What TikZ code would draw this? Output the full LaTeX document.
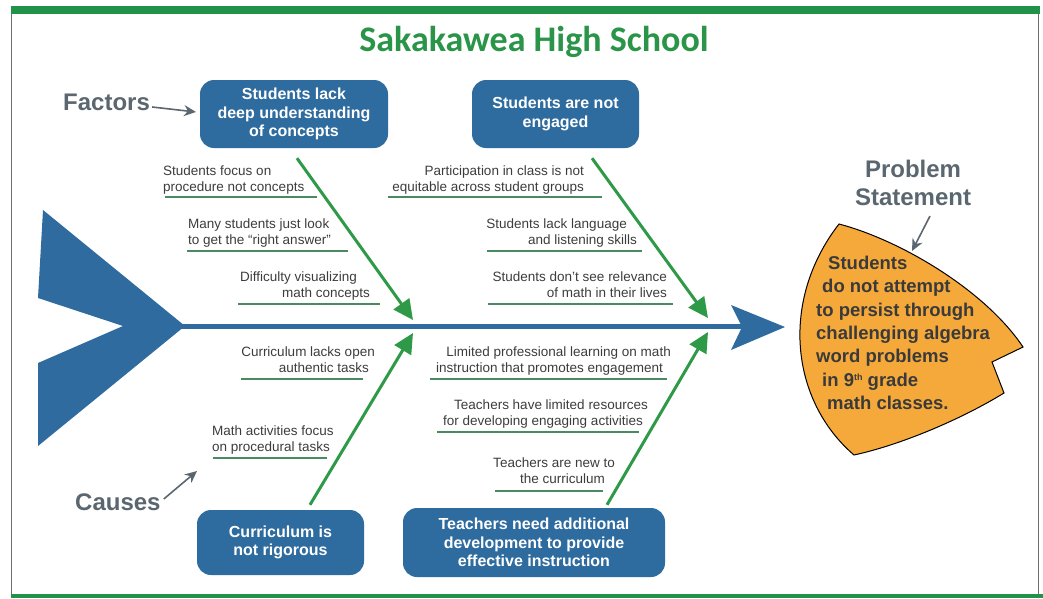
\documentclass[tikz,border=0pt]{standalone}
\usepackage{fontspec}
\setmainfont{Liberation Sans}
\newfontfamily\titlefont{Carlito}
\usetikzlibrary{arrows.meta,calc}
\definecolor{boxblue}{HTML}{2E6B9E}
\definecolor{spineblue}{HTML}{2F6B9F}
\definecolor{agreen}{HTML}{2E9A48}
\definecolor{ulgreen}{HTML}{4A8A62}
\definecolor{titlegreen}{HTML}{2A9548}
\definecolor{lblgray}{HTML}{5B6770}
\definecolor{txtgray}{HTML}{3C3C3C}
\definecolor{probtext}{HTML}{3A3A3A}
\definecolor{orangefill}{HTML}{F5A93B}
\definecolor{bargreen}{HTML}{22924A}
\definecolor{framegray}{HTML}{6E6E6E}
\begin{document}
\begin{tikzpicture}[x=1pt,y=-1pt,
  factorbox/.style={fill=boxblue, rounded corners=14pt, text=white, font=\bfseries\fontsize{16}{18.5}\selectfont, align=center, inner sep=0pt},
  causetxt/.style={text=txtgray, font=\fontsize{13.5}{15.5}\selectfont, inner sep=0pt},
  uline/.style={draw=ulgreen, line width=1.8pt},
  garrow/.style={draw=agreen, line width=3pt, -{Triangle[length=20pt,width=19pt]}},
  grayarrow/.style={draw=lblgray, line width=1.6pt, -{Stealth[length=12pt,width=11pt]}},
  biglabel/.style={text=lblgray, font=\bfseries\fontsize{24}{28}\selectfont, inner sep=0pt}]
\useasboundingbox (0,0) rectangle (1043,598);
% frame
\fill[bargreen] (11,6) rectangle (1040,14);
\draw[framegray, line width=1pt] (11,14) -- (11,594);
\draw[framegray, line width=1pt] (1038,14) -- (1038,594);
\fill[bargreen] (11,594) rectangle (1043,598);
% title
\node[font=\titlefont\bfseries\fontsize{36}{40}\selectfont, text=titlegreen, anchor=base] (title) at (534,51) {Sakakawea High School};
% fish tail and spine
\fill[spineblue] (43,210) -- (185,326) -- (38,446) -- (38,363) -- (123,326) -- (38,298) -- cycle;
\coordinate (spL) at (180,326);
\coordinate (spR) at (745,326);
\draw[spineblue, line width=5pt] (spL) -- (spR);
\fill[spineblue] (785,327) -- (731,305) -- (742,327) -- (731,350) -- cycle;
% factor boxes
\node[factorbox, minimum width=188pt, minimum height=68pt] (b1) at (294,114) {Students lack\\deep understanding\\of concepts};
\node[factorbox, minimum width=167pt, minimum height=68pt] (b2) at (555.5,114) {Students are not\\engaged};
\node[factorbox, minimum width=167pt, minimum height=65pt] (b3) at (280.5,542.5) {Curriculum is\\not rigorous};
\node[factorbox, minimum width=262pt, minimum height=69pt] (b4) at (534,542.5) {Teachers need additional\\development to provide\\effective instruction};
% arrow tips on spine
\coordinate (t1) at (413,320);
\coordinate (t2) at (708,318);
\coordinate (t3) at (413,333);
\coordinate (t4) at (708,332);
\draw[garrow] ($(b1.south)+(3,10)$) -- (t1);
\draw[garrow] ($(b2.south)+(36.5,10)$) -- (t2);
\draw[garrow] ($(b3.north)+(29.5,-5)$) -- (t3);
\draw[garrow] ($(b4.north)+(73,-3)$) -- (t4);
% cause labels
\node[causetxt, align=left, anchor=north west] (c1) at (163,166) {Students focus on\\procedure not concepts};
\node[causetxt, align=left, anchor=north west] (c2) at (188,219) {Many students just look\\to get the “right answer”};
\node[causetxt, align=right, anchor=north east] (c3) at (370,272) {Difficulty visualizing\hspace*{13pt}\\math concepts};
\node[causetxt, align=right, anchor=north east] (c4) at (584,166) {Participation in class is not\\equitable across student groups};
\node[causetxt, align=right, anchor=north east] (c5) at (637,219) {Students lack language\hspace*{10pt}\\and listening skills};
\node[causetxt, align=right, anchor=north east] (c6) at (667,272) {Students don’t see relevance\\of math in their lives};
\node[causetxt, align=right, anchor=north east] (c7) at (375,347) {Curriculum lacks open\\authentic tasks\hspace*{6pt}};
\node[causetxt, align=left, anchor=north west] (c8) at (212,426) {Math activities focus\\on procedural tasks};
\node[causetxt, align=right, anchor=north east] (c9) at (671,347) {Limited professional learning on math\\instruction that promotes engagement\hspace*{8pt}};
\node[causetxt, align=right, anchor=north east] (c10) at (648,400) {Teachers have limited resources\\for developing engaging activities\hspace*{5pt}};
\node[causetxt, align=right, anchor=north east] (c11) at (615,458) {Teachers are new to\\the curriculum\hspace*{10pt}};
% underlines
\draw[uline] (165,197) -- (317,197);
\draw[uline] (187,251) -- (348,251);
\draw[uline] (238,304) -- (380,304);
\draw[uline] (388,197) -- (602,197);
\draw[uline] (487,251) -- (642,251);
\draw[uline] (488,304) -- (673,304);
\draw[uline] (241,379) -- (363,379);
\draw[uline] (213,458) -- (327,458);
\draw[uline] (430,379) -- (667,379);
\draw[uline] (437,432) -- (639,432);
\draw[uline] (495,491) -- (603,491);
% big labels
\node[biglabel, anchor=base west] (fac) at (63,110) {Factors};
\coordinate (fa) at (196,112);
\draw[grayarrow] ($(fac.base east)+(2,-3)$) -- (fa);
\node[biglabel, anchor=base west] (cau) at (75,510) {Causes};
\coordinate (ca) at (197,471);
\draw[grayarrow] ($(cau.base east)+(3,-11)$) -- (ca);
\node[biglabel, align=center, anchor=north] (ps) at (913,160) {Problem\\Statement};
\coordinate (pa) at (912,251);
% problem shape
\draw[fill=orangefill, draw=black, line width=1pt] (839,224) .. controls (900,240) and (985,290) .. (1023,347) -- (992,362) -- (1004,393) .. controls (960,420) and (900,445) .. (854,455) .. controls (790,400) and (780,300) .. (839,224) -- cycle;
\draw[grayarrow] ($(ps.south)+(17,10)$) -- (pa);
\node[anchor=north west, inner sep=0pt, align=left, text=probtext, font=\bfseries\fontsize{18.5}{23.3}\selectfont] (pst) at (816,256) {\hspace*{12pt}Students\\\hspace*{6pt}do not attempt\\to persist through\\challenging algebra\\word problems\\\hspace*{6pt}in 9\raisebox{6pt}{\fontsize{9}{9}\selectfont th} grade\\\hspace*{11pt}math classes.};
\end{tikzpicture}
\end{document}
